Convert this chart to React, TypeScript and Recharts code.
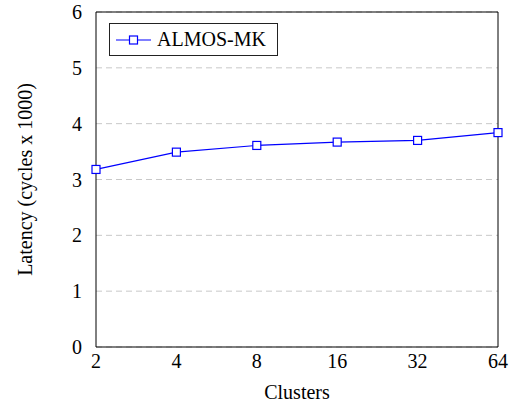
import { LineChart, Line, XAxis, YAxis, CartesianGrid, Legend, Label } from "recharts";

const clusters = ["2", "4", "8", "16", "32", "64"];
const latency = [3.18, 3.49, 3.61, 3.67, 3.7, 3.84];
const yTicks = [0, 1, 2, 3, 4, 5, 6];

const data = clusters.map((c, i) => ({ clusters: c, latency: latency[i] }));

const FONT = "Liberation Serif, Times New Roman, serif";
const BLUE = "#0000ff";
const TICK_GRAY = "#999";

const SquareDot = (props: any) => {
  const { cx, cy, index } = props;
  if (cx == null || cy == null) return null;
  return (
    <rect
      key={`dot-${index}`}
      x={cx - 4}
      y={cy - 4}
      width={8}
      height={8}
      fill="white"
      stroke={BLUE}
      strokeWidth={1.2}
    />
  );
};

const YLabel = (props: any) => {
  const vb = props.viewBox || {};
  const cx = 25;
  const cy = (vb.y ?? 0) + (vb.height ?? 0) / 2;
  return (
    <text
      x={cx}
      y={cy}
      transform={`rotate(-90, ${cx}, ${cy})`}
      textAnchor="middle"
      dominantBaseline="central"
      style={{ fontFamily: FONT, fontSize: 20, fill: "#000" }}
    >
      Latency (cycles x 1000)
    </text>
  );
};

const LegendBox = () => (
  <div
    style={{
      display: "inline-flex",
      alignItems: "center",
      border: "1px solid #222",
      background: "white",
      height: 31,
      padding: "0 11px 0 6px",
      fontFamily: FONT,
      fontSize: 20,
      color: "#000",
    }}
  >
    <svg width={35} height={12}>
      <line x1={0} y1={6} x2={35} y2={6} stroke={BLUE} strokeWidth={1.2} />
      <rect x={13.5} y={2} width={8} height={8} fill="white" stroke={BLUE} strokeWidth={1.2} />
    </svg>
    <span style={{ marginLeft: 6 }}>ALMOS-MK</span>
  </div>
);

export default function App() {
  return (
    <div style={{ position: "absolute", left: 0, top: 0, background: "white", fontFamily: FONT }}>
      <LineChart width={518} height={407} data={data} margin={{ top: 12, right: 20, left: 0, bottom: 0 }}>
        <CartesianGrid
          vertical={false}
          stroke="#c8c8c8"
          strokeDasharray="6 4"
          yAxisId="main"
          xAxisId="main"
        />
        <XAxis
          xAxisId="main"
          dataKey="clusters"
          height={60}
          interval={0}
          tickLine={false}
          tickMargin={1}
          axisLine={{ stroke: "#000", strokeWidth: 1 }}
          tick={{ fontSize: 20, fill: "#000", fontFamily: FONT }}
        >
          <Label
            value="Clusters"
            position="insideBottom"
            offset={8}
            style={{ fontFamily: FONT, fontSize: 20, fill: "#000" }}
          />
        </XAxis>
        <XAxis
          xAxisId="bottomTicks"
          dataKey="clusters"
          orientation="bottom"
          mirror
          height={1}
          interval={0}
          tick={false}
          axisLine={false}
          tickSize={5}
          tickLine={{ stroke: TICK_GRAY }}
        />
        <XAxis
          xAxisId="top"
          dataKey="clusters"
          orientation="top"
          mirror
          height={1}
          interval={0}
          tick={false}
          tickSize={5}
          tickLine={{ stroke: TICK_GRAY }}
          axisLine={{ stroke: "#000", strokeWidth: 1 }}
        />
        <YAxis
          yAxisId="main"
          width={96}
          domain={[0, 6]}
          ticks={yTicks}
          tickLine={false}
          tickMargin={8}
          axisLine={{ stroke: "#000", strokeWidth: 1 }}
          tick={{ fontSize: 20, fill: "#000", fontFamily: FONT }}
        >
          <Label content={<YLabel />} />
        </YAxis>
        <YAxis
          yAxisId="leftTicks"
          orientation="left"
          mirror
          width={1}
          domain={[0, 6]}
          ticks={yTicks}
          tick={false}
          axisLine={false}
          tickSize={5}
          tickLine={{ stroke: TICK_GRAY }}
        />
        <YAxis
          yAxisId="right"
          orientation="right"
          mirror
          width={1}
          domain={[0, 6]}
          ticks={yTicks}
          tick={false}
          tickSize={5}
          tickLine={{ stroke: TICK_GRAY }}
          axisLine={{ stroke: "#000", strokeWidth: 1 }}
        />
        <Legend
          verticalAlign="middle"
          align="center"
          content={() => <LegendBox />}
          wrapperStyle={{ left: 109, top: 23, width: "auto" }}
        />
        <Line
          xAxisId="main"
          yAxisId="main"
          dataKey="latency"
          name="ALMOS-MK"
          type="linear"
          stroke={BLUE}
          strokeWidth={1.2}
          dot={SquareDot}
          activeDot={false}
          isAnimationActive={false}
        />
      </LineChart>
    </div>
  );
}
